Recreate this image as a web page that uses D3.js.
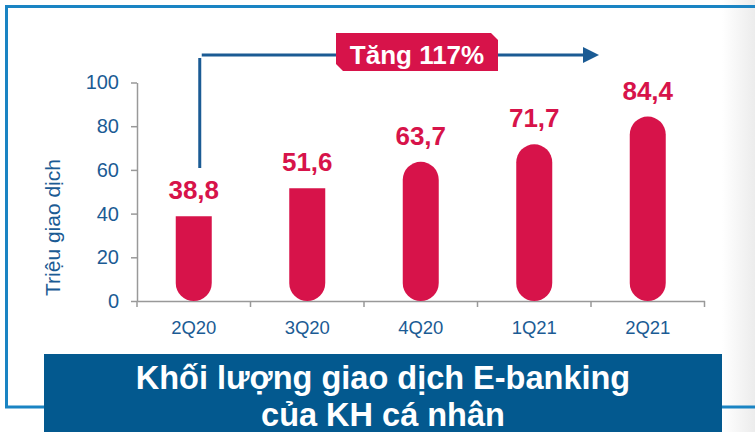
<!DOCTYPE html>
<html>
<head>
<meta charset="utf-8">
<script src="https://cdn.jsdelivr.net/npm/d3@7"></script>
<style>
  body { margin: 0; background: #fff; }
  svg { display: block; font-family: "Liberation Sans", Arial, sans-serif; }
</style>
</head>
<body>
<svg width="755" height="432"></svg>
<script>
const quarters = ["2Q20", "3Q20", "4Q20", "1Q21", "2Q21"];
const volumes = [38.8, 51.6, 63.7, 71.7, 84.4];
const yTicks = [0, 20, 40, 60, 80, 100];
const yTitle = "Triệu giao dịch";
const growthLabel = "Tăng 117%";
const titleLines = ["Khối lượng giao dịch E-banking", "của KH cá nhân"];

const red = "#d7134a";
const blue = "#1b5b94";
const frameBlue = "#1a84c3";

const svg = d3.select("svg");

const x = d3.scaleBand()
  .domain(quarters)
  .range([137, 704.5])
  .padding(0);

const y = d3.scaleLinear()
  .domain([0, 100])
  .range([301, 82.5]);

const fmt = v => d3.format(".1f")(v).replace(".", ",");

// right-side grey fade
const defs = svg.append("defs");
const grad = defs.append("linearGradient").attr("id", "fade");
grad.append("stop").attr("offset", "0").attr("stop-color", "#fff");
grad.append("stop").attr("offset", "1").attr("stop-color", "#ececec");
svg.append("rect")
  .attr("x", 722).attr("y", 0)
  .attr("width", 33).attr("height", 432)
  .attr("fill", "url(#fade)");

// frame
svg.append("path")
  .attr("d", "M760,6.5 H6.5 V407 H760")
  .attr("fill", "none")
  .attr("stroke", frameBlue)
  .attr("stroke-width", 3);

// axes
const yAxis = svg.append("g")
  .attr("transform", `translate(${x.range()[0]},0)`)
  .call(d3.axisLeft(y).tickValues(yTicks).tickSize(6).tickPadding(12).tickSizeOuter(0));

const xAxis = svg.append("g")
  .attr("transform", `translate(0,${y(0)})`)
  .call(d3.axisBottom(x).tickSize(0).tickPadding(20));

[yAxis, xAxis].forEach(a => {
  a.select(".domain").attr("stroke", "#999").attr("stroke-width", 1.5);
  a.selectAll(".tick line").attr("stroke", "#999").attr("stroke-width", 1.5);
  a.selectAll("text")
    .attr("fill", blue)
    .attr("font-family", "Liberation Sans, Arial, sans-serif");
});
yAxis.selectAll("text").attr("font-size", 20);
xAxis.selectAll("text").attr("font-size", 18.5);

// x tick marks at band boundaries
xAxis.selectAll(".bound")
  .data(quarters.concat([null]))
  .join("line")
  .attr("class", "bound")
  .attr("x1", (d, i) => x.range()[0] + i * x.step())
  .attr("x2", (d, i) => x.range()[0] + i * x.step())
  .attr("y1", 0).attr("y2", 6)
  .attr("stroke", "#999")
  .attr("stroke-width", 1.5);

svg.append("text")
  .attr("transform", `translate(60,${(y(0) + y(70)) / 2 + 3}) rotate(-90)`)
  .attr("text-anchor", "middle")
  .attr("fill", blue)
  .attr("font-size", 21)
  .text(yTitle);

// bars
const barW = 36;
const r = barW / 2;

function barPath(d, i) {
  const cx = x(d.q) + x.bandwidth() / 2;
  const x0 = cx - r, x1 = cx + r;
  const top = y(d.v), bottom = y(0);
  const roundTop = i >= 2;
  const p = d3.path();
  if (roundTop) {
    p.moveTo(x0, top + r);
    p.arc(cx, top + r, r, Math.PI, 0);
  } else {
    p.moveTo(x0, top);
    p.lineTo(x1, top);
  }
  p.lineTo(x1, bottom - r);
  p.arc(cx, bottom - r, r, 0, Math.PI);
  p.closePath();
  return p.toString();
}

const data = quarters.map((q, i) => ({ q, v: volumes[i] }));

svg.append("g")
  .selectAll("path")
  .data(data)
  .join("path")
  .attr("d", barPath)
  .attr("fill", red);

svg.append("g")
  .selectAll("text")
  .data(data)
  .join("text")
  .attr("x", d => x(d.q) + x.bandwidth() / 2)
  .attr("y", d => y(d.v) - 17)
  .attr("text-anchor", "middle")
  .attr("fill", red)
  .attr("font-weight", "bold")
  .attr("font-size", 26)
  .text(d => fmt(d.v));

// growth arrow
const firstCx = x(quarters[0]) + x.bandwidth() / 2;
svg.append("line")
  .attr("x1", firstCx + 6).attr("x2", firstCx + 6)
  .attr("y1", 58).attr("y2", 168)
  .attr("stroke", blue).attr("stroke-width", 3);
svg.append("line")
  .attr("x1", firstCx + 8).attr("x2", 586)
  .attr("y1", 55).attr("y2", 55)
  .attr("stroke", blue).attr("stroke-width", 3);
svg.append("path")
  .attr("d", "M583,47 L599,55 L583,63 Z")
  .attr("fill", blue);

const bx0 = 336, bx1 = 498, by0 = 33, by1 = 71, c = 7;
svg.append("path")
  .attr("d", `M${bx0},${by0} H${bx1 - c} L${bx1},${by0 + c} V${by1} H${bx0 + c} L${bx0},${by1 - c} Z`)
  .attr("fill", red);
svg.append("text")
  .attr("x", (bx0 + bx1) / 2)
  .attr("y", 64)
  .attr("text-anchor", "middle")
  .attr("fill", "#fff")
  .attr("font-weight", "bold")
  .attr("font-size", 26)
  .text(growthLabel);

// title box
svg.append("rect")
  .attr("x", 44).attr("y", 354)
  .attr("width", 678).attr("height", 80)
  .attr("fill", "#03598f");

svg.append("g")
  .selectAll("text")
  .data(titleLines)
  .join("text")
  .attr("x", 383)
  .attr("y", (d, i) => 389 + i * 37)
  .attr("text-anchor", "middle")
  .attr("fill", "#fff")
  .attr("font-weight", "bold")
  .attr("font-size", 32.5)
  .text(d => d);
</script>
</body>
</html>
